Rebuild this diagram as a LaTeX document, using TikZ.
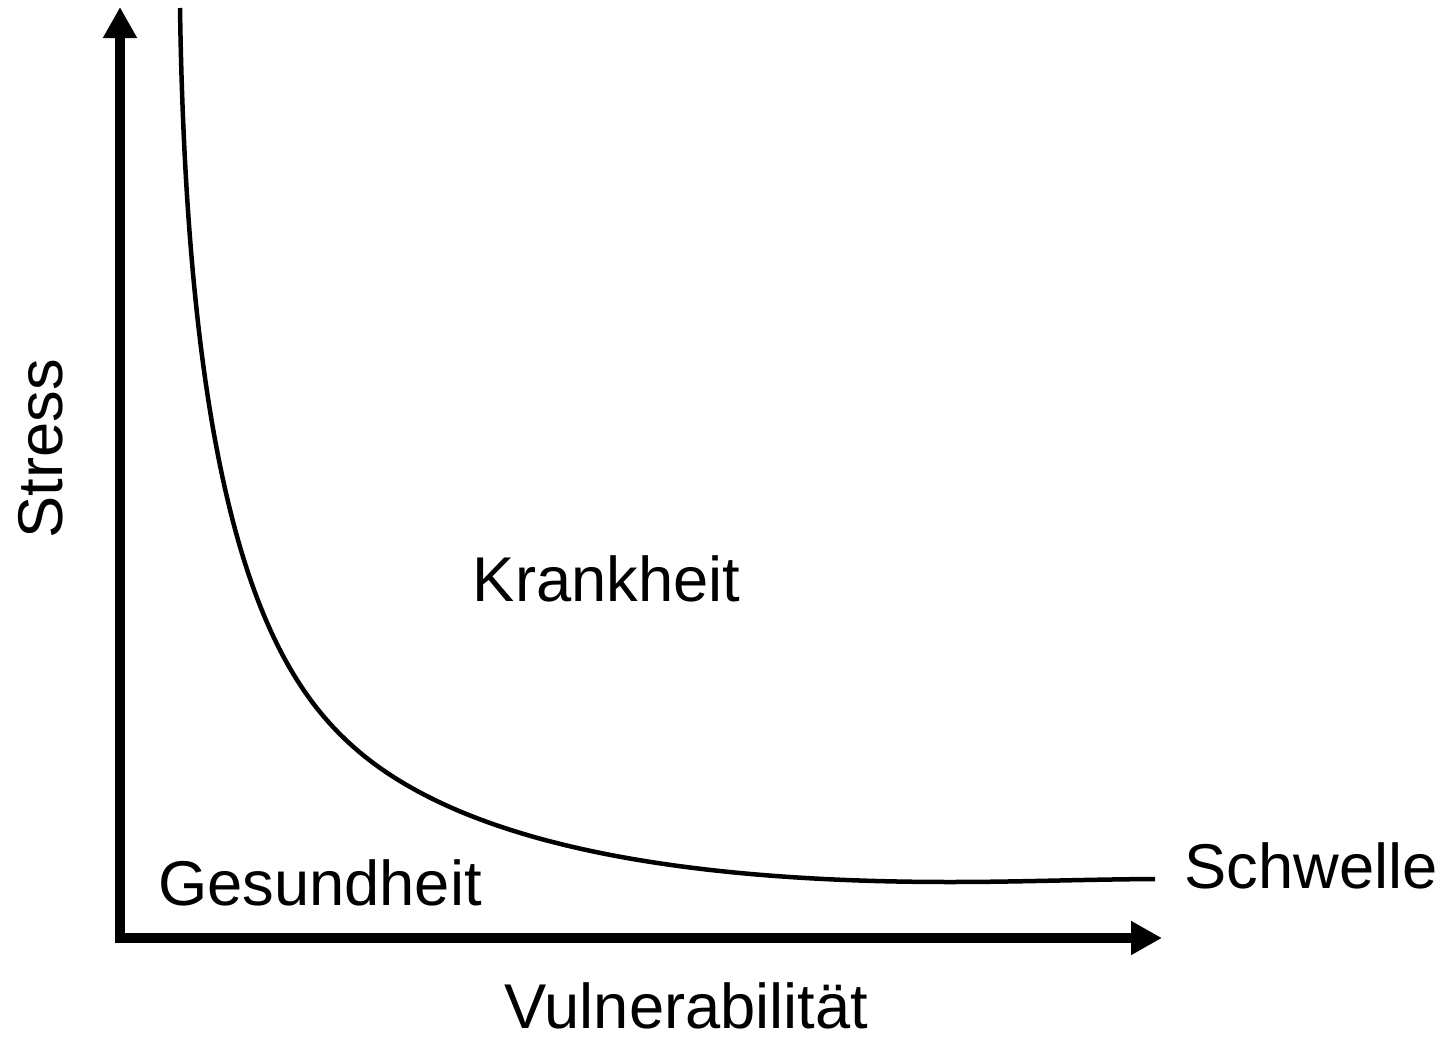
\documentclass[tikz,border=0pt]{standalone}
\usepackage{fontspec}
\setmainfont{Liberation Sans}
\usepackage{tikz}
\usetikzlibrary{arrows.meta}

\begin{document}
\begin{tikzpicture}[
  axis/.style={line width=1mm, line join=miter,
    {Triangle[length=3.1mm,width=3.2mm]}-{Triangle[length=3.1mm,width=3.2mm]}},
  curve/.style={line width=0.45mm},
  lbl/.style={font=\fontsize{18}{22}\selectfont, inner sep=0pt, anchor=base}]
\useasboundingbox (0,0) rectangle (14.54,10.38);
% axes
\coordinate (ytop) at (1.20,10.31);
\coordinate (xend) at (11.62,1.00);
\draw[axis] (ytop) |- (xend);
% threshold curve
\coordinate (ctop) at (1.80,10.30);
\coordinate (cknee) at (3.57,2.88);
\coordinate (cflat) at (9.50,1.56);
\coordinate (cend) at (11.55,1.59);
\draw[curve] (ctop) .. controls (1.88,5.00) and (2.77,3.57) .. (cknee)
  .. controls (4.57,2.02) and (6.50,1.56) .. (cflat)
  .. controls (10.20,1.56) and (10.80,1.585) .. (cend);
% labels
\node[lbl] (krank) at (6.065,4.37) {Krankheit};
\node[lbl] (gesund) at (3.20,1.33) {Gesundheit};
\node[lbl] (schwelle) at (13.11,1.50) {Schwelle};
\node[lbl] (vulner) at (6.865,0.10) {Vulnerabilität};
\node[lbl, rotate=90] (stress) at (0.62,5.89) {Stress};
\end{tikzpicture}
\end{document}
